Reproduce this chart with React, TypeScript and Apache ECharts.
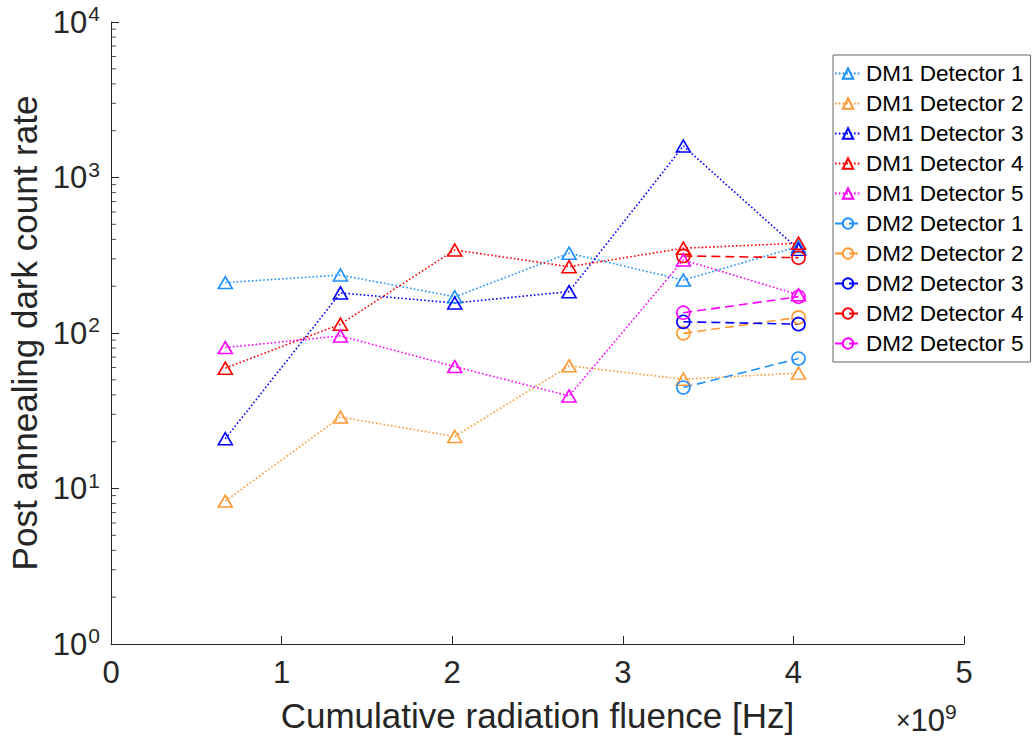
import React, { useEffect, useRef } from "react";
import * as echarts from "echarts";

// Cumulative radiation fluence in units of 1e9 Hz
const FLUENCE = [0.67, 1.345, 2.015, 2.685, 3.355, 4.03];
const DM2_FLUENCE = [3.355, 4.03];

const DM1_DET1 = [211, 236, 171, 326, 219, 360];
const DM1_DET2 = [8.3, 28.8, 21.6, 61.5, 50.5, 55.2];
const DM1_DET3 = [20.9, 181, 156, 184.5, 1594, 345];
const DM1_DET4 = [59.4, 114, 342, 267, 351, 378];
const DM1_DET5 = [80.6, 95.8, 60.8, 39.4, 295, 176];

const DM2_DET1 = [44.6, 68.5];
const DM2_DET2 = [99.5, 126];
const DM2_DET3 = [118, 114];
const DM2_DET4 = [313, 305];
const DM2_DET5 = [135, 171];

const DM1_NAMES = ["DM1 Detector 1", "DM1 Detector 2", "DM1 Detector 3", "DM1 Detector 4", "DM1 Detector 5"];
const DM2_NAMES = ["DM2 Detector 1", "DM2 Detector 2", "DM2 Detector 3", "DM2 Detector 4", "DM2 Detector 5"];
const COLORS = ["#1e90ff", "#ff9933", "#0000ff", "#ff0000", "#ff00ff"];

const X_TICKS_MAX = 5;
const Y_MIN = 1;
const Y_MAX = 10000;
const Y_MINOR_TICKS = [
  2, 3, 4, 5, 6, 7, 8, 9,
  20, 30, 40, 50, 60, 70, 80, 90,
  200, 300, 400, 500, 600, 700, 800, 900,
  2000, 3000, 4000, 5000, 6000, 7000, 8000, 9000,
];

const FONT = "'Liberation Sans', Arial, Helvetica, sans-serif";
const AXIS_COLOR = "#262626";

export default function App() {
  const ref = useRef<HTMLDivElement>(null);

  useEffect(() => {
    if (!ref.current) return;
    const chart = echarts.init(ref.current, undefined, { renderer: "svg" });

    const dm1 = [DM1_DET1, DM1_DET2, DM1_DET3, DM1_DET4, DM1_DET5];
    const dm2 = [DM2_DET1, DM2_DET2, DM2_DET3, DM2_DET4, DM2_DET5];

    const lineSeries = (name: string, xs: number[], ys: number[], color: string, isDm1: boolean) => ({
      name,
      type: "line",
      data: xs.map((x, i) => [x, ys[i]]),
      symbol: isDm1 ? "triangle" : "circle",
      symbolSize: isDm1 ? [14, 12] : 13,
      showSymbol: true,
      lineStyle: { color, width: 1.6, type: isDm1 ? [1.6, 2.2] : [9, 5] },
      itemStyle: { color: "rgba(255,255,255,0)", borderColor: color, borderWidth: 1.6 },
      emphasis: { disabled: true },
      clip: false,
    });

    const series: any[] = [];
    dm1.forEach((ys, i) => series.push(lineSeries(DM1_NAMES[i], FLUENCE, ys, COLORS[i], true)));
    dm2.forEach((ys, i) => series.push(lineSeries(DM2_NAMES[i], DM2_FLUENCE, ys, COLORS[i], false)));
    // minor ticks of the log axis
    series.push({
      type: "scatter",
      data: Y_MINOR_TICKS.map((v) => [0, v]),
      symbol: "rect",
      symbolSize: [5, 1],
      symbolOffset: [2.5, 0],
      itemStyle: { color: AXIS_COLOR },
      silent: true,
      clip: false,
      z: 1,
    });

    chart.setOption({
      animation: false,
      backgroundColor: "#fff",
      grid: { left: 111, top: 22, width: 853, height: 622, containLabel: false, outerBoundsMode: "none" },
      xAxis: {
        type: "value",
        min: 0,
        max: X_TICKS_MAX,
        interval: 1,
        name: "Cumulative radiation fluence [Hz]",
        nameLocation: "middle",
        nameGap: 54,
        nameTextStyle: { fontSize: 35, color: AXIS_COLOR, fontFamily: FONT },
        axisLine: { show: true, lineStyle: { color: AXIS_COLOR, width: 1 } },
        axisTick: { show: true, inside: true, length: 8, lineStyle: { color: AXIS_COLOR } },
        axisLabel: { fontSize: 31, color: AXIS_COLOR, fontFamily: FONT, margin: 13 },
        splitLine: { show: false },
      },
      yAxis: {
        type: "log",
        logBase: 10,
        min: Y_MIN,
        max: Y_MAX,
        interval: 1,
        name: "Post annealing dark count rate",
        nameLocation: "middle",
        nameGap: 63,
        nameTextStyle: { fontSize: 35, color: AXIS_COLOR, fontFamily: FONT },
        axisLine: { show: true, lineStyle: { color: AXIS_COLOR, width: 1 } },
        axisTick: { show: true, inside: true, length: 8, lineStyle: { color: AXIS_COLOR } },
        axisLabel: {
          margin: 11,
          formatter: (v: number) => `{b|10}{s|${Math.round(Math.log10(v))}}`,
          rich: {
            b: { fontSize: 31, color: AXIS_COLOR, fontFamily: FONT, lineHeight: 38 },
            s: { fontSize: 21, color: AXIS_COLOR, fontFamily: FONT, lineHeight: 22, verticalAlign: "top", padding: [0, 0, 0, 1] },
          },
        },
        splitLine: { show: false },
      },
      legend: {
        orient: "vertical",
        left: 833,
        top: 55,
        data: [...DM1_NAMES, ...DM2_NAMES],
        backgroundColor: "#fff",
        borderColor: "#666",
        borderWidth: 1,
        borderRadius: 0,
        padding: [7, 7, 7, 1],
        itemWidth: 26,
        itemHeight: 13,
        itemGap: 7,
        selectedMode: false,
        textStyle: { fontSize: 22.5, lineHeight: 22, color: "#000", fontFamily: FONT },
      },
      graphic: [
        {
          type: "text",
          left: 896,
          top: 701,
          style: {
            text: "{x|×}{b|10}{s|9}",
            rich: {
              x: { fontSize: 25, fill: AXIS_COLOR, fontFamily: FONT, lineHeight: 38 },
              b: { fontSize: 31, fill: AXIS_COLOR, fontFamily: FONT, lineHeight: 38 },
              s: { fontSize: 21, fill: AXIS_COLOR, fontFamily: FONT, lineHeight: 22, verticalAlign: "top" },
            },
          },
        },
      ],
      series,
    });

    return () => chart.dispose();
  }, []);

  return (
    <div
      ref={ref}
      style={{ position: "fixed", left: 0, top: 0, width: 1032, height: 744, background: "#fff" }}
    />
  );
}
